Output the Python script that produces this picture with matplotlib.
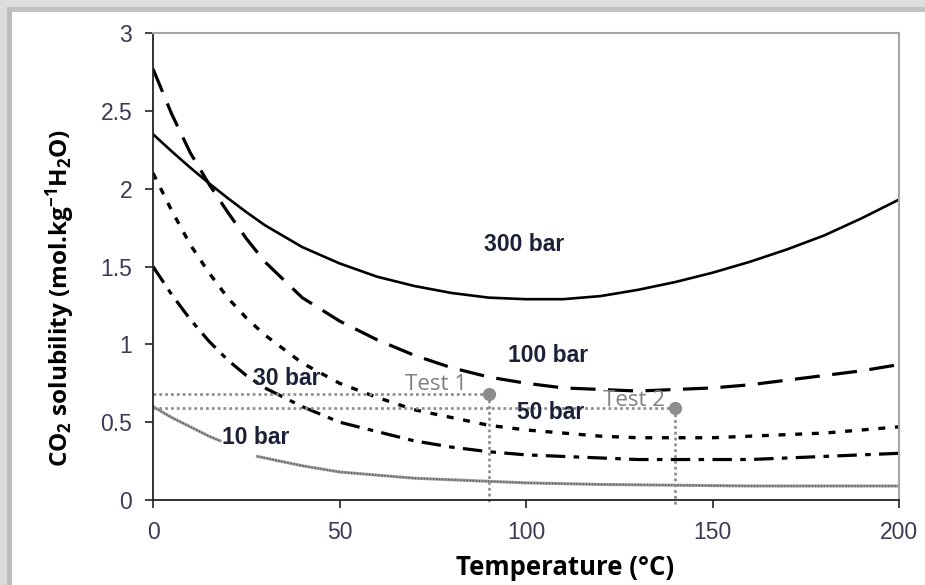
import matplotlib
matplotlib.use("Agg")
import matplotlib.pyplot as plt
from matplotlib.patches import Rectangle
import numpy as np

# Temperatures (°C) for the isobars
temp = [0, 5, 10, 15, 20, 25, 30, 40, 50, 60, 70, 80, 90, 100,
        110, 120, 130, 140, 150, 160, 170, 180, 190, 200]

# CO2 solubility (mol/kg H2O) per pressure
sol_300 = [2.35, 2.24, 2.135, 2.035, 1.94, 1.85, 1.765, 1.625, 1.52, 1.435, 1.375, 1.33,
           1.30, 1.29, 1.29, 1.31, 1.35, 1.40, 1.46, 1.53, 1.61, 1.70, 1.81, 1.93]
sol_100 = [2.77, 2.48, 2.23, 2.03, 1.85, 1.68, 1.53, 1.30, 1.15, 1.03, 0.93, 0.85,
           0.79, 0.75, 0.72, 0.71, 0.70, 0.71, 0.72, 0.74, 0.77, 0.80, 0.83, 0.87]
sol_50 = [2.10, 1.86, 1.64, 1.46, 1.30, 1.17, 1.06, 0.88, 0.75, 0.66, 0.58, 0.53,
          0.48, 0.45, 0.43, 0.41, 0.40, 0.40, 0.40, 0.41, 0.42, 0.43, 0.45, 0.47]
sol_30 = [1.50, 1.32, 1.16, 1.02, 0.90, 0.80, 0.72, 0.60, 0.50, 0.44, 0.38, 0.34,
          0.31, 0.29, 0.28, 0.27, 0.26, 0.26, 0.26, 0.26, 0.27, 0.28, 0.29, 0.30]

temp_10 = [0, 5, 10, 15, 18, 28, 30, 40, 50, 60, 70, 80, 90, 100,
           120, 140, 160, 180, 200]
sol_10 = [0.60, 0.53, 0.47, 0.41, 0.38, 0.28, 0.27, 0.22, 0.18, 0.16, 0.14, 0.13,
          0.12, 0.11, 0.10, 0.095, 0.09, 0.09, 0.09]
gap_10 = (18, 28)  # break in the 10 bar curve under its label

# Test conditions
test_names = ["Test 1", "Test 2"]
test_temp = [90, 140]
test_sol = [0.68, 0.59]

# Curve labels
curve_labels = ["300 bar", "100 bar", "50 bar", "30 bar", "10 bar"]
label_xy = [(99.5, 1.64), (106, 0.93), (106.7, 0.565), (35.8, 0.78), (27.6, 0.40)]
test_label_xy = [(76, 0.745), (129, 0.64)]

x_ticks = [0, 50, 100, 150, 200]
y_ticks = [0, 0.5, 1, 1.5, 2, 2.5, 3]
y_tick_labels = ["0", "0.5", "1", "1.5", "2", "2.5", "3"]

plt.rcParams["lines.scale_dashes"] = False
plt.rcParams["mathtext.fontset"] = "custom"
plt.rcParams["mathtext.rm"] = "Open Sans:bold"
plt.rcParams["mathtext.it"] = "Open Sans:bold"
plt.rcParams["mathtext.bf"] = "Open Sans:bold"

W, H = 925, 585
fig = plt.figure(figsize=(W / 100, H / 100), dpi=100)
fig.patch.set_facecolor("white")

# shadowed frame along the top and left edges
fig.patches.append(Rectangle((0, 1 - 7 / H), 1, 7 / H, transform=fig.transFigure,
                             facecolor="#dedede", edgecolor="none", zorder=0))
fig.patches.append(Rectangle((0, 1 - 12 / H), 1, 5 / H, transform=fig.transFigure,
                             facecolor="#c2c2c2", edgecolor="none", zorder=0))
fig.patches.append(Rectangle((0, 0), 7 / W, 1, transform=fig.transFigure,
                             facecolor="#dcdcdc", edgecolor="none", zorder=0))
fig.patches.append(Rectangle((7 / W, 0), 5 / W, 1 - 7 / H, transform=fig.transFigure,
                             facecolor="#bdbdbd", edgecolor="none", zorder=0))

ax_l, ax_r, ax_t, ax_b = 153, 899, 33, 500
ax = fig.add_axes([ax_l / W, (H - ax_b) / H, (ax_r - ax_l) / W, (ax_b - ax_t) / H])
ax.set_xlim(0, 200)
ax.set_ylim(0, 3)

# isobars
ax.plot(temp, sol_300, color="black", lw=1.9, solid_joinstyle="round")
ax.plot(temp, sol_100, color="black", lw=2.3, dashes=(18, 9))
ax.plot(temp, sol_50, color="black", lw=2.4, dashes=(5, 7))
ax.plot(temp, sol_30, color="black", lw=2.3, dashes=(14, 6, 4, 6))

t10 = np.array(temp_10)
s10 = np.array(sol_10)
for mask in (t10 <= gap_10[0], t10 >= gap_10[1]):
    ax.plot(t10[mask], s10[mask], color="#a0a0a0", lw=2.2)
    ax.plot(t10[mask], s10[mask], color="#5a5a5a", lw=1.2, dashes=(1, 1.2))

# test points with their guide lines
for tt, ss in zip(test_temp, test_sol):
    ax.plot([0, tt], [ss, ss], color="#8c8c8c", lw=1.9, dashes=(2, 2.2), clip_on=False)
    ax.plot([tt, tt], [ss, -0.03], color="#8c8c8c", lw=1.9, dashes=(2, 2.2), clip_on=False)
    ax.plot([tt], [ss], marker="o", ms=8.5, color="#8c8c8c", mec="#8c8c8c", zorder=5)

for name, (lx, ly) in zip(test_names, test_label_xy):
    ax.text(lx, ly, name, color="#808080", fontsize=16, family="Open Sans",
            ha="center", va="center")

for name, (lx, ly) in zip(curve_labels, label_xy):
    ax.text(lx, ly, name, color="#1c2038", fontsize=16.5, fontweight="bold",
            family="Liberation Sans", ha="center", va="center")

# axes styling
for side in ("left", "bottom"):
    ax.spines[side].set_color("#222222")
    ax.spines[side].set_linewidth(1.3)
for side in ("top", "right"):
    ax.spines[side].set_color("#a6a6a6")
    ax.spines[side].set_linewidth(1.5)

ax.set_xticks(x_ticks)
ax.set_xticklabels([str(v) for v in x_ticks])
ax.set_yticks(y_ticks)
ax.set_yticklabels(y_tick_labels)
ax.tick_params(direction="out", length=6, width=1.2, color="#222222",
               labelsize=16.5, labelcolor="#3a3a55", pad=9)
ax.tick_params(top=False, right=False)
for lab in ax.get_xticklabels() + ax.get_yticklabels():
    lab.set_family("Liberation Sans")

ax.set_xlabel("Temperature (°C)", family="Open Sans", fontweight="bold", fontsize=18.5,
              color="black")
ax.xaxis.set_label_coords((565 - ax_l) / (ax_r - ax_l), -(554 - ax_b) / (ax_b - ax_t))
ax.set_ylabel(r"CO$_2$ solubility (mol.kg$^{-1}$H$_2$O)", family="Open Sans",
              fontweight="bold", fontsize=17.5, color="black")
ax.yaxis.set_label_coords(-(ax_l - 77) / (ax_r - ax_l), (ax_b - 298) / (ax_b - ax_t))

fig.savefig("out.png", dpi=100, facecolor=fig.get_facecolor())
